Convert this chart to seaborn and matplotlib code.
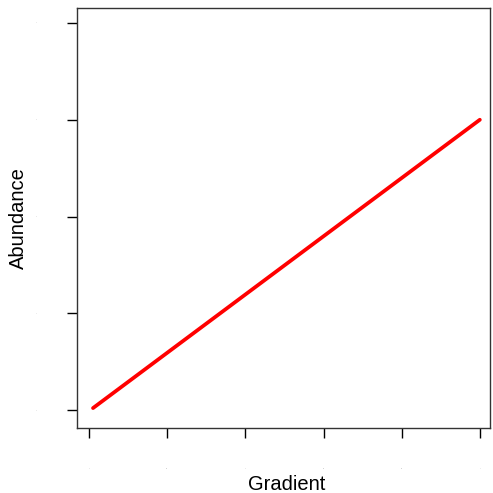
import matplotlib
matplotlib.use("Agg")
import matplotlib.pyplot as plt
import seaborn as sns
import pandas as pd

gradient = [0.01, 1.0]
abundance = [0.02, 3.0]
x_ticks = [0.0, 0.2, 0.4, 0.6, 0.8, 1.0]
y_ticks = [0, 1, 2, 3, 4]

sns.set_style("white")
plt.rcParams['font.family'] = ['Liberation Sans', 'DejaVu Sans']

df = pd.DataFrame({"Gradient": gradient, "Abundance": abundance})

fig = plt.figure(figsize=(4.93, 4.93), dpi=100)
ax = fig.add_axes([77/493, 1 - 428/493, (490-77)/493, (428-8)/493])
sns.lineplot(data=df, x="Gradient", y="Abundance", color="red", linewidth=2.7, ax=ax)

ax.set_xlim(-0.031, 1.026)
ax.set_ylim(-0.186, 4.155)
ax.set_xticks(x_ticks)
ax.set_yticks(y_ticks)
ax.set_xticklabels([f"{v:g}" for v in x_ticks], fontsize=1, color="#aaaaaa")
ax.set_yticklabels([f"{v:g}" for v in y_ticks], fontsize=1, color="#aaaaaa")
ax.tick_params(axis="both", direction="out", length=7, width=1, color="black", pad=22,
               left=True, bottom=True)
for s in ax.spines.values():
    s.set_visible(True)
    s.set_color("#333333")
    s.set_linewidth(1.0)
ax.set_xlabel("Gradient", fontsize=14.5, va="center", color="black")
ax.set_ylabel("Abundance", fontsize=14.5, va="center", color="black")
ax.xaxis.set_label_coords((287 - 77) / 413, (428 - 484) / 420)
ax.yaxis.set_label_coords((18 - 77) / 413, (428 - 218) / 420)

fig.savefig("out.png", dpi=100)
